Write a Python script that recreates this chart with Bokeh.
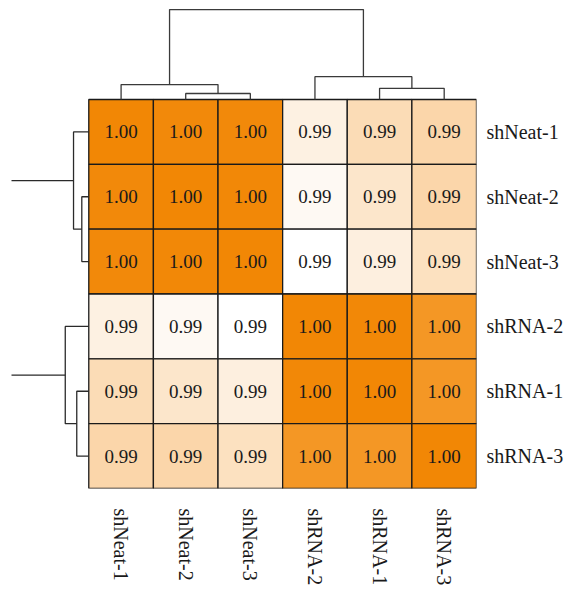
import math
from bokeh.plotting import figure
from bokeh.models import FixedTicker, LinearColorMapper, Range1d, ColumnDataSource
from bokeh.core.properties import value
from bokeh.transform import transform
from bokeh.embed import file_html
from bokeh.resources import INLINE

# ---- data ----
samples = ["shNeat-1", "shNeat-2", "shNeat-3", "shRNA-2", "shRNA-1", "shRNA-3"]
row_labels = samples
col_labels = samples

corr_shNeat_1 = [1.0000, 0.9998, 0.9998, 0.9912, 0.9929, 0.9934]
corr_shNeat_2 = [0.9998, 1.0000, 0.9999, 0.9905, 0.9921, 0.9934]
corr_shNeat_3 = [0.9998, 0.9999, 1.0000, 0.9900, 0.9913, 0.9925]
corr_shRNA_2 = [0.9912, 0.9905, 0.9900, 1.0000, 0.9999, 0.9987]
corr_shRNA_1 = [0.9929, 0.9921, 0.9913, 0.9999, 1.0000, 0.9987]
corr_shRNA_3 = [0.9934, 0.9934, 0.9925, 0.9987, 0.9987, 1.0000]
matrix = [corr_shNeat_1, corr_shNeat_2, corr_shNeat_3, corr_shRNA_2, corr_shRNA_1, corr_shRNA_3]

# linkage (child a, child b, merge height in cell units); leaves 0..5, new clusters 6..
col_linkage = [[1, 2, 0.093], [0, 6, 0.230], [4, 5, 0.172], [3, 8, 0.352], [7, 9, 1.388]]
row_linkage = [[1, 2, 0.108], [0, 6, 0.236], [4, 5, 0.186], [3, 8, 0.364], [7, 9, 1.390]]

n = len(samples)

# ---- colour palette white -> orange ----
lo_rgb = (255, 255, 255)
hi_rgb = (242, 135, 5)
palette = []
for k in range(256):
    f = k / 255
    c = tuple(round(lo_rgb[j] + (hi_rgb[j] - lo_rgb[j]) * f) for j in range(3))
    palette.append("#%02x%02x%02x" % c)
mapper = LinearColorMapper(palette=palette, low=0.9900, high=1.0000)

# ---- cells ----
xs, ys, vals, txt = [], [], [], []
for i in range(n):
    for j in range(n):
        xs.append(j + 0.5)
        ys.append(n - i - 0.5)
        vals.append(matrix[i][j])
        txt.append("%.2f" % matrix[i][j])
src = ColumnDataSource(dict(x=xs, y=ys, v=vals, t=txt))

W, H = 567, 595
FW, FH = 465, 480
BL, BT = 11, 8
p = figure(width=W, height=H, output_backend="svg", toolbar_location=None,
           x_range=Range1d(6 - FW / 64.62, 6), y_range=Range1d(0, FH / 64.83),
           x_axis_location="below", y_axis_location="right",
           min_border_left=BL, min_border_top=BT,
           min_border_right=W - BL - FW, min_border_bottom=H - BT - FH)
p.outline_line_color = None
p.grid.visible = False

p.rect(x="x", y="y", width=1, height=1, source=src,
       fill_color=transform("v", mapper), line_color="#1a1a1a", line_width=1.3)
p.text(x="x", y="y", text="t", source=src, text_align="center", text_baseline="middle",
       text_font=value("Liberation Serif"), text_font_size="19px", text_color="#1a1a1a")


def dendro_segments(linkage, nleaves):
    pos = {i: i + 0.5 for i in range(nleaves)}
    hgt = {i: 0.0 for i in range(nleaves)}
    segs = []
    for k, (a, b, h) in enumerate(linkage):
        segs.append(([pos[a], pos[a], pos[b], pos[b]], [hgt[a], h, h, hgt[b]]))
        new = nleaves + k
        pos[new] = (pos[a] + pos[b]) / 2
        hgt[new] = h
    return segs


# top dendrogram (columns)
top = dendro_segments(col_linkage, n)
p.multi_line(xs=[s[0] for s in top], ys=[[n + h for h in s[1]] for s in top],
             line_color="#3a3a3a", line_width=1.3)

# left dendrogram (rows); row i sits at y = n - i - 0.5
left = dendro_segments(row_linkage, n)
p.multi_line(xs=[[-h for h in s[1]] for s in left], ys=[[n - q for q in s[0]] for s in left],
             line_color="#2a2a2a", line_width=1.3)

# axes as labels
for ax in (p.xaxis[0], p.yaxis[0]):
    ax.axis_line_color = None
    ax.major_tick_line_color = None
    ax.minor_tick_line_color = None
    ax.major_tick_out = 0
    ax.major_tick_in = 0
    ax.major_label_text_font = "Liberation Serif"
    ax.major_label_text_font_size = "20px"
    ax.major_label_text_color = "#1a1a1a"

p.xaxis[0].ticker = FixedTicker(ticks=[j + 0.5 for j in range(n)])
p.xaxis[0].major_label_overrides = {j + 0.5: col_labels[j] for j in range(n)}
p.xaxis[0].major_label_orientation = -math.pi / 2
p.xaxis[0].major_label_standoff = 20

p.yaxis[0].ticker = FixedTicker(ticks=[n - i - 0.5 for i in range(n)])
p.yaxis[0].major_label_overrides = {n - i - 0.5: row_labels[i] for i in range(n)}
p.yaxis[0].major_label_standoff = 10

open("out.html", "w").write(file_html(p, INLINE))
